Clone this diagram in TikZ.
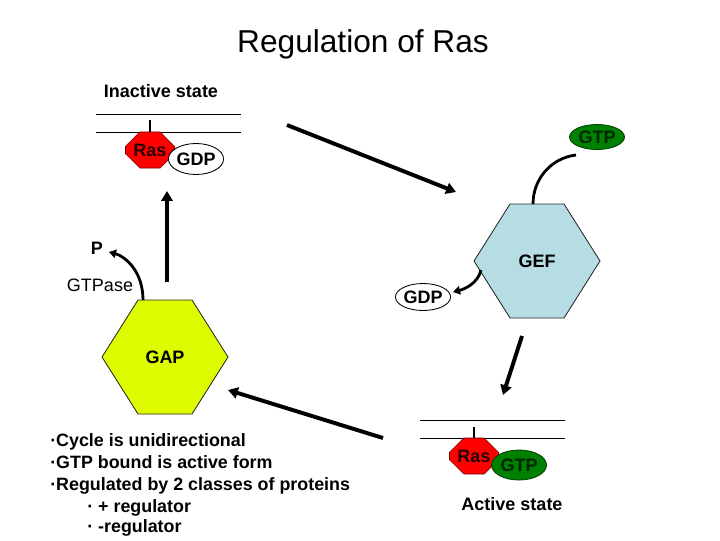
\documentclass[tikz,border=0pt]{standalone}
\usepackage{fontspec}
\setmainfont{Liberation Sans}
\usepackage{tikz}
\usetikzlibrary{arrows.meta, shapes.geometric, shapes.misc}

\definecolor{rasred}{RGB}{255,0,0}
\definecolor{gtpgreen}{RGB}{0,128,0}
\definecolor{gefblue}{RGB}{182,221,228}
\definecolor{gapyellow}{RGB}{222,252,0}

\begin{document}
\begin{tikzpicture}[
    x=0.025cm, y=-0.025cm,
    txt/.style={inner sep=0pt, font=\fontsize{12.8}{15}\selectfont},
    lbl/.style={inner sep=0pt, font=\fontsize{12.8}{15}\selectfont\bfseries},
    rasbox/.style={chamfered rectangle, chamfered rectangle xsep=2.2mm,
                   chamfered rectangle ysep=2mm, draw=red!45!black, fill=rasred,
                   minimum width=12.25mm, minimum height=9mm, lbl, text=red!15!black},
    nuc/.style={ellipse, draw, line width=0.6pt, lbl, minimum width=13.75mm},
    gtpnuc/.style={nuc, fill=gtpgreen, draw=green!25!black, text=green!15!black},
    memb/.style={line width=0.7pt},
    stalk/.style={line width=2pt},
    hexa/.style={draw=black!85, line width=0.6pt},
    arr/.style={-{Triangle[length=7pt, width=8pt]}, line width=2.8pt},
    carr/.style={-{Triangle[length=5pt, width=6pt]}, line width=2pt},
    note/.style={anchor=base west, inner sep=0pt, font=\fontsize{12.7}{15}\selectfont\bfseries},
]
    \useasboundingbox (0,0) rectangle (720,540);

    % ── Title ──
    \node[inner sep=0pt, font=\fontsize{22.5}{27}\selectfont, anchor=base] (title) at (363,52)
        {Regulation of Ras};

    % ── Inactive state (top left) ──
    \node[lbl, anchor=base] (inact) at (161,97) {Inactive state};
    \draw[memb] (96,114) -- (241,114);
    \draw[memb] (96,132) -- (241,132);
    \draw[stalk] (150,120) -- (150,132);
    \node[rasbox] (ras1) at (150,150) {Ras};
    \node[nuc, fill=white, minimum height=7.75mm] (gdp1) at (196,159) {GDP};

    % ── GEF (+ regulator) ──
    \coordinate (gefc) at (537,261);
    \draw[hexa, fill=gefblue] (gefc) ++(-63,0) -- ++(36,-57) -- ++(54,0)
        -- ++(36,57) -- ++(-36,57) -- ++(-54,0) -- cycle;
    \node[lbl] (gef) at (gefc) {GEF};

    \node[gtpnuc, minimum height=6.25mm] (gtp1) at (597,137) {GTP};
    \coordinate (gtp1out) at (576,155);
    \coordinate (geftop) at (533,204);
    \draw[line width=2pt] (gtp1out) .. controls +(-25,3) and +(0,-25) .. (geftop);

    \node[nuc, fill=white, minimum width=13.25mm, minimum height=6.75mm] (gdp2) at (423,297) {GDP};
    \coordinate (gefleft) at (481,270);
    \coordinate (gdp2in) at (453,292);
    \draw[carr] (gefleft) .. controls +(-3,13) and +(12,-3) .. (gdp2in);

    % ── Active state (bottom right) ──
    \draw[memb] (420,420) -- (565,420);
    \draw[memb] (420,438) -- (565,438);
    \draw[stalk] (474,427) -- (474,438);
    \node[rasbox] (ras2) at (474,456) {Ras};
    \node[gtpnuc, minimum height=7.5mm] (gtp2) at (519,465) {GTP};
    \node[lbl, anchor=base] (act) at (512,510) {Active state};

    % ── GAP (- regulator) ──
    \coordinate (gapc) at (165,357);
    \draw[hexa, fill=gapyellow] (gapc) ++(-63,0) -- ++(36,-57) -- ++(54,0)
        -- ++(36,57) -- ++(-36,57) -- ++(-54,0) -- cycle;
    \node[lbl] (gap) at (gapc) {GAP};

    \node[lbl] (pi) at (97,248) {P};
    \node[txt, anchor=base] (gtpase) at (100,291) {GTPase};
    \coordinate (gaptop) at (143,300);
    \coordinate (piin) at (109,252);
    \draw[carr] (gaptop) .. controls +(0,-30) and +(15,4) .. (piin);

    % ── Cycle arrows ──
    \coordinate (inactout) at (287,125);
    \coordinate (gefin) at (456,192);
    \draw[arr] (inactout) -- (gefin);

    \coordinate (gefout) at (522,336);
    \coordinate (actin) at (503,395);
    \draw[arr] (gefout) -- (actin);

    \coordinate (actout) at (383,438);
    \coordinate (gapin) at (228,390);
    \draw[arr] (actout) -- (gapin);

    \coordinate (gapout) at (167,282);
    \coordinate (gdp1in) at (167,191);
    \draw[arr] (gapout) -- (gdp1in);

    % ── Notes ──
    \node[note] (n1) at (50,446) {·Cycle is unidirectional};
    \node[note] (n2) at (50,468) {·GTP bound is active form};
    \node[note] (n3) at (50,490) {·Regulated by 2 classes of proteins};
    \node[note] (n4) at (87,512) {· + regulator};
    \node[note] (n5) at (87,532) {· -regulator};

\end{tikzpicture}
\end{document}
